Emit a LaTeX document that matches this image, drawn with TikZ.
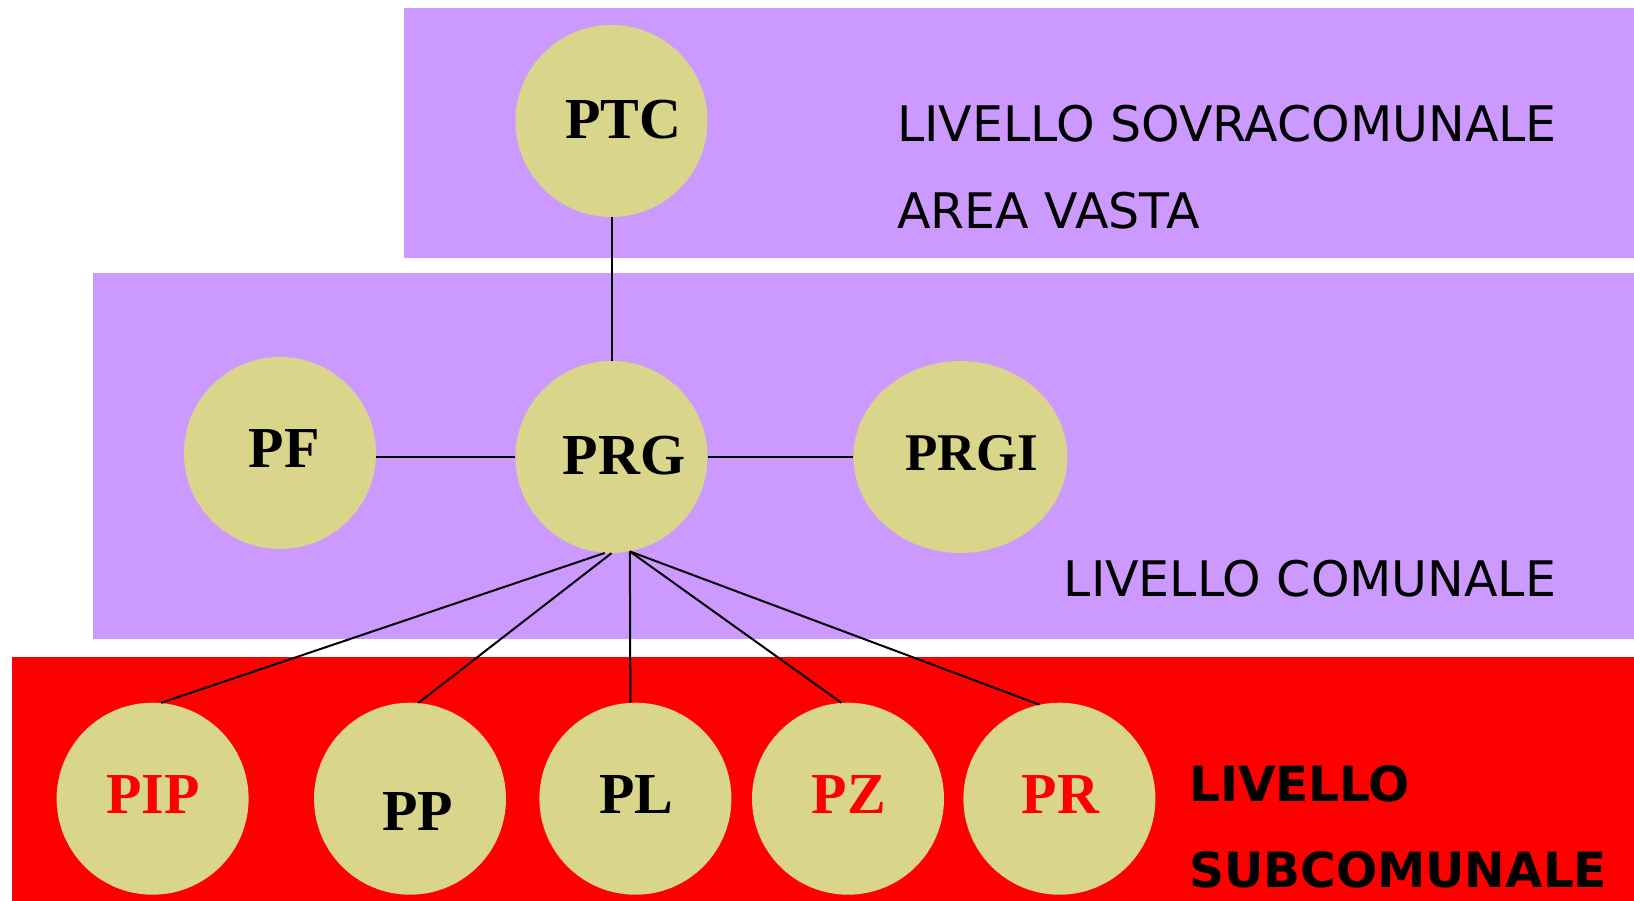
\documentclass[tikz,border=0pt]{standalone}
\usepackage{fontspec}
\setmainfont{Liberation Serif}
\setsansfont{DejaVu Sans}
\usetikzlibrary{positioning,shapes.geometric}
\definecolor{lilla}{HTML}{CC99FF}
\definecolor{sabbia}{HTML}{D9D58B}

\begin{document}
\begin{tikzpicture}[x=1pt,y=-1pt,
	piano/.style={circle, fill=sabbia, minimum size=192pt, inner sep=0pt},
	sigla/.style={font=\fontsize{58}{58}\selectfont\bfseries},
	scritta/.style={anchor=base west, inner sep=0pt, font=\fontsize{49}{49}\selectfont\sffamily},
	scrittab/.style={scritta, font=\fontsize{48.5}{48.5}\selectfont\sffamily\bfseries},
	legame/.style={line width=2pt}]
	\useasboundingbox (0,0) rectangle (1634,901);
	
	\fill[lilla] (404,8.5) rectangle (1634,258.5);
	\fill[lilla] (92.7,273.3) rectangle (1634,638.7);
	\fill[red] (11.5,657) rectangle (1634,901);
	
	\node[piano, label={[sigla, xshift=12pt, yshift=1pt]center:PTC}] (PTC) at (611.5,121) {};
	\node[piano, label={[sigla, xshift=4.4pt, yshift=4pt]center:PF}] (PF) at (280,453) {};
	\node[piano, label={[sigla, xshift=12.5pt, yshift=1.5pt]center:PRG}] (PRG) at (611.5,457) {};
	\node[ellipse, fill=sabbia, minimum width=214pt, minimum height=192pt, inner sep=0pt,
		label={[font=\fontsize{53}{53}\selectfont\bfseries, xshift=11.4pt, yshift=4pt]center:PRGI}] (PRGI) at (960.4,457) {};
	
	\node[piano, label={[sigla, text=red, xshift=0.4pt, yshift=4.2pt]center:PIP}] (PIP) at (152.6,798.7) {};
	\node[piano, label={[sigla, xshift=7.7pt, yshift=-12.5pt]center:PP}] (PP) at (410,798.7) {};
	\node[piano, label={[sigla, xshift=1pt, yshift=4.4pt]center:PL}] (PL) at (635.4,798.7) {};
	\node[piano, label={[sigla, text=red, xshift=1pt, yshift=4.2pt]center:PZ}] (PZ) at (848,798.7) {};
	\node[piano, label={[sigla, text=red, xshift=1pt, yshift=4.2pt]center:PR}] (PR) at (1059.4,798.7) {};
	
	\node[scritta] (sovra) at (897,141.7) {LIVELLO SOVRACOMUNALE};
	\node[scritta] (vasta) at (897,228.3) {AREA VASTA};
	\node[scritta] (comunale) at (1063.5,596) {LIVELLO COMUNALE};
	\node[scrittab] (livello) at (1189,801) {LIVELLO};
	\node[scrittab] (subcom) at (1189,887) {SUBCOMUNALE};
	
	\draw[legame] (PTC.south) -- (PRG.north);
	\draw[legame, line width=2.5pt] (PRG.west -| PF.east) -- (PRG.west);
	\draw[legame, line width=2.5pt] (PRG.east) -- (PRGI.west);
	\draw[legame] (PRG.-94) -- (PIP.85);
	\draw[legame] (PRG.-90) -- (PP.85);
	\draw[legame] (PRG.-79) -- (PL.93);
	\draw[legame] (PRG.-79) -- (PZ.94);
	\draw[legame] (PRG.-79) -- (PR.102);
\end{tikzpicture}
\end{document}
